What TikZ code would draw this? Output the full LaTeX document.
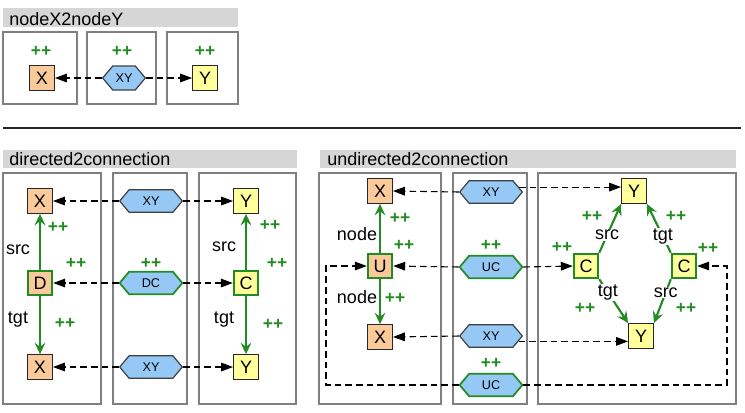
\documentclass[tikz,border=0pt]{standalone}
\usepackage{fontspec}
\setmainfont{Liberation Sans}
\usetikzlibrary{shapes.symbols, arrows.meta, positioning}

\definecolor{xfill}{RGB}{250,202,155}
\definecolor{yfill}{RGB}{255,255,155}
\definecolor{hfill}{RGB}{150,200,245}
\definecolor{dgreen}{RGB}{34,139,34}

\begin{document}
\begin{tikzpicture}[x=0.75pt, y=-0.75pt,
	panel/.style={draw=black!50, line width=1.3pt},
	bar/.style={fill=black!16},
	ttl/.style={anchor=base west, inner sep=0pt, font=\fontsize{13.5}{14}\selectfont},
	xnode/.style={draw=black!85, line width=0.9pt, fill=xfill, minimum size=18.5pt, inner sep=0pt, font=\fontsize{13.5}{14}\selectfont},
	ynode/.style={xnode, fill=yfill},
	gnode/.style={draw=dgreen, line width=1.3pt},
	hexa/.style={signal, signal to=east and west, signal pointer angle=100, draw=black!75, line width=0.9pt, fill=hfill, minimum width=47pt, minimum height=17pt, inner sep=0pt, font=\fontsize{9.5}{10}\selectfont},
	pp/.style={text=dgreen, inner sep=0pt, font=\bfseries\fontsize{13}{13}\selectfont},
	lbl/.style={text=black, inner sep=0.5pt, font=\fontsize{13.5}{14}\selectfont},
	conn/.style={black, line width=0.8pt, dash pattern=on 5pt off 3pt, -{Triangle[length=9pt, width=6.5pt]}},
	garrow/.style={dgreen, line width=1.6pt, -{Stealth[length=8.5pt, width=8pt, inset=3pt]}}
]
	\useasboundingbox (0,0) rectangle (745,412);

	% nodeX2nodeY
	\fill [bar] (3,8) rectangle (238,27);
	\node [ttl] (t1) at (9,25) {nodeX2nodeY};
	\draw [panel] (3,32) rectangle (77,104);
	\draw [panel] (87,32) rectangle (156,104);
	\draw [panel] (167,32) rectangle (238,104);

	\node [xnode] (x1) at (42,78) {X};
	\node [hexa, minimum width=32pt, minimum height=18pt] (xy1) at (124,78) {XY};
	\node [ynode] (y1) at (205,78) {Y};
	\node [pp] (p1) at (41,51) {++};
	\node [pp] (p2) at (122,51) {++};
	\node [pp] (p3) at (205,51) {++};
	\draw [conn] (xy1.west) -- (x1.east);
	\draw [conn] (xy1.east) -- (y1.west);

	\draw [black!85, line width=1.4pt] (3,128) -- (741,128);

	% directed2connection
	\fill [bar] (3,150) rectangle (297,168);
	\node [ttl] (t2) at (9,165) {directed2connection};
	\draw [panel] (3,173) rectangle (101,404);
	\draw [panel] (113,173) rectangle (187,404);
	\draw [panel] (199,173) rectangle (296,404);

	\node [xnode] (dx1) at (40,201) {X};
	\node [xnode, gnode] (dd) at (40,283) {D};
	\node [xnode] (dx2) at (40,367) {X};
	\node [hexa] (dxy1) at (151,201) {XY};
	\node [hexa, gnode] (ddc) at (151,283) {DC};
	\node [hexa] (dxy2) at (151,367) {XY};
	\node [ynode] (dy1) at (246,201) {Y};
	\node [ynode, gnode] (dc) at (246,283) {C};
	\node [ynode] (dy2) at (246,367) {Y};

	\draw [garrow] (dd) -- (dx1);
	\draw [garrow] (dd) -- (dx2);
	\draw [garrow] (dc) -- (dy1);
	\draw [garrow] (dc) -- (dy2);
	\foreach \a/\b in {dxy1/dx1, ddc/dd, dxy2/dx2}
		\draw [conn] (\a.west) -- (\b.east);
	\foreach \a/\b in {dxy1/dy1, ddc/dc, dxy2/dy2}
		\draw [conn] (\a.east) -- (\b.west);

	\node [lbl] (ds1) at (18,250) {src};
	\node [lbl] (dt1) at (18,320) {tgt};
	\node [lbl] (ds2) at (224,247) {src};
	\node [lbl] (dt2) at (224,320) {tgt};
	\node [pp] (dp1) at (58,227) {++};
	\node [pp] (dp2) at (76,263) {++};
	\node [pp] (dp3) at (65,323) {++};
	\node [pp] (dp4) at (151,263) {++};
	\node [pp] (dp5) at (270,225) {++};
	\node [pp] (dp6) at (277,263) {++};
	\node [pp] (dp7) at (273,324) {++};

	% undirected2connection
	\fill [bar] (320,150) rectangle (736,168);
	\node [ttl] (t3) at (327,165) {undirected2connection};
	\draw [panel] (319,173) rectangle (441,404);
	\draw [panel] (453,173) rectangle (527,404);
	\draw [panel] (538,173) rectangle (736,404);

	\node [xnode] (ux1) at (380,191) {X};
	\node [xnode, gnode] (uu) at (380,266) {U};
	\node [xnode] (ux2) at (380,337) {X};
	\node [hexa] (uxy1) at (491,192) {XY};
	\node [hexa, gnode] (uuc1) at (491,267) {UC};
	\node [hexa] (uxy2) at (491,336) {XY};
	\node [hexa, gnode] (uuc2) at (491,385) {UC};
	\node [ynode] (uy1) at (634,191) {Y};
	\node [ynode, gnode] (uc1) at (586,266) {C};
	\node [ynode, gnode] (uc2) at (684,266) {C};
	\node [ynode] (uy2) at (641,336) {Y};

	\draw [garrow] (uu) -- (ux1);
	\draw [garrow] (uu) -- (ux2);
	\draw [garrow] (uc1.north east) -- node [lbl, fill=white, pos=0.36] (us1) {src} (uy1.south west);
	\draw [garrow] (uc2.north west) -- node [lbl, fill=white, pos=0.33] (ut1) {tgt} (uy1.south east);
	\draw [garrow] (uc1.south east) -- node [lbl, fill=white, pos=0.3] (ut2) {tgt} (uy2.north west);
	\draw [garrow] (uc2.south west) -- node [lbl, fill=white, pos=0.3] (us2) {src} (uy2.north east);

	\draw [conn] (uxy1.west) -- (ux1.east);
	\draw [conn] (uxy1.10) -- (uxy1.10 -| uy1.west);
	\draw [conn] (uuc1.west) -- (uu.east);
	\draw [conn] (uuc1.east) -- (uc1.west);
	\draw [conn] (uxy2.west) -- (ux2.east);
	\draw [conn] (uxy2.-11) -- (uxy2.-11 -| uy2.west);
	\coordinate (lturn) at (326,385);
	\coordinate (rturn) at (727,385);
	\draw [conn] (uuc2.west) -- (lturn) |- (uu.west);
	\draw [conn] (uuc2.east) -- (rturn) |- (uc2.east);

	\node [lbl] (un1) at (357,234) {node};
	\node [lbl] (un2) at (357,297) {node};
	\node [pp] (up1) at (400,218) {++};
	\node [pp] (up2) at (404,245) {++};
	\node [pp] (up3) at (395,298) {++};
	\node [pp] (up4) at (491,245) {++};
	\node [pp] (up5) at (491,363) {++};
	\node [pp] (up6) at (592,216) {++};
	\node [pp] (up7) at (562,247) {++};
	\node [pp] (up8) at (676,216) {++};
	\node [pp] (up9) at (708,248) {++};
	\node [pp] (up10) at (585,308) {++};
	\node [pp] (up11) at (686,308) {++};
\end{tikzpicture}
\end{document}
